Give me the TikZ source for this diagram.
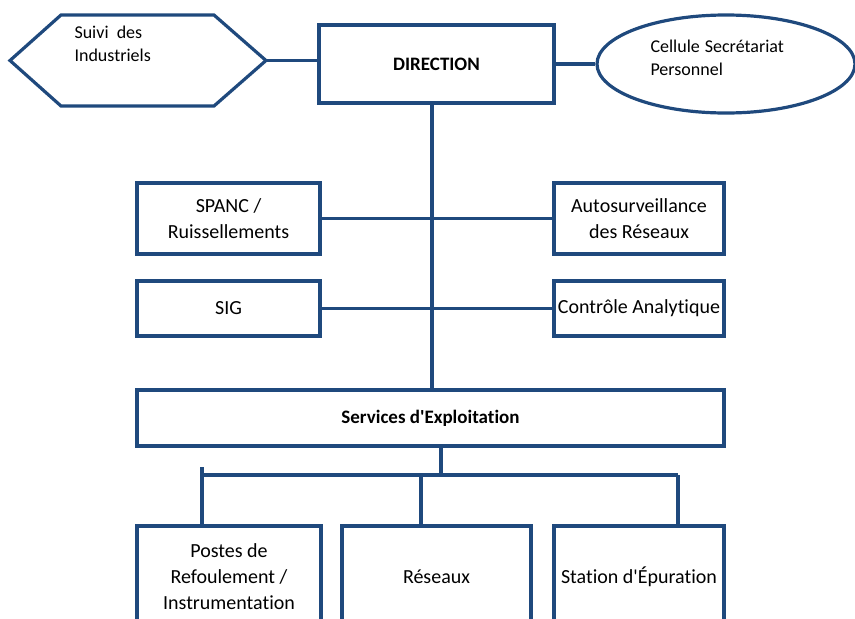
\documentclass[tikz,border=0pt]{standalone}
\usepackage{fontspec}
\setmainfont{Carlito}[Ligatures={TeXOff,CommonOff}]
\usetikzlibrary{shapes.geometric}
\definecolor{orgblue}{HTML}{1F497D}
\tikzset{
  ln/.style={draw=orgblue,line width=3.2pt},
  box/.style={ln,rectangle,align=center,inner sep=0pt},
  small/.style={font=\fontsize{18}{23}\selectfont,align=left,anchor=west},
}
\begin{document}
\begin{tikzpicture}[x=1pt,y=-1pt,font=\fontsize{20}{26}\selectfont]
    \useasboundingbox (0,0) rectangle (855,619);
    \clip (0,0) rectangle (855,619);
    \draw [ln] (10,60.5) -- (61,15) -- (214,15) -- (266,60.5) -- (214,106) -- (61,106) -- cycle;
    \coordinate (hexa) at (266,60.5);
    \node (suivi) [small] at (71,43.5) {Suivi\ \ des\\Industriels};
    \node (direction) [box,minimum width=235,minimum height=78,font=\fontsize{19}{26}\selectfont\bfseries] at (436.5,64) {DIRECTION};
    \node (secretariat) [ln,ellipse,minimum width=258,minimum height=98] at (726,64) {};
    \node (secr text) [small] at (647,57.5) {Cellule\hspace{5pt}Secrétariat\\Personnel};
    \node (spanc) [box,minimum width=183,minimum height=71] at (228.5,218.5) {SPANC /\\Ruissellements};
    \node (auto) [box,minimum width=170,minimum height=71] at (639,218.5) {Autosurveillance\\des Réseaux};
    \node (sig) [box,minimum width=183,minimum height=55] at (228.5,308.5) {SIG};
    \node (controle) [box,minimum width=170,minimum height=55] at (639,308.5) {Contrôle Analytique};
    \node (services) [box,minimum width=587,minimum height=56,font=\fontsize{19}{26}\selectfont\bfseries] at (430.5,418) {Services d'Exploitation};
    \node (postes) [box,minimum width=184,minimum height=102] at (229,577) {Postes de\\Refoulement /\\Instrumentation};
    \node (reseaux) [box,minimum width=189,minimum height=102] at (436.5,577) {Réseaux};
    \node (station) [box,minimum width=170,minimum height=102] at (639,577) {Station d'Épuration};
    % liaisons
    \draw [ln] (hexa) -- (hexa -| direction.west);
    \draw [ln] (direction.east) -- (secretariat.west);
    \draw [ln] (direction.south -| 432,0) -- (services.north -| 432,0);
    \draw [ln] (spanc.east) -- (auto.west);
    \draw [ln] (sig.east) -- (controle.west);
    \coordinate (fork) at (441,475);
    \coordinate (drop1) at (202,475);
    \coordinate (drop2) at (421,475);
    \coordinate (drop3) at (678,475);
    \draw [ln] (services.south -| fork) -- (fork);
    \draw [ln] (drop1) -- (drop3);
    \draw [ln] (202,467) -- (drop1 |- postes.north);
    \draw [ln] (drop2) -- (drop2 |- reseaux.north);
    \draw [ln] (drop3) -- (drop3 |- station.north);
\end{tikzpicture}
\end{document}
